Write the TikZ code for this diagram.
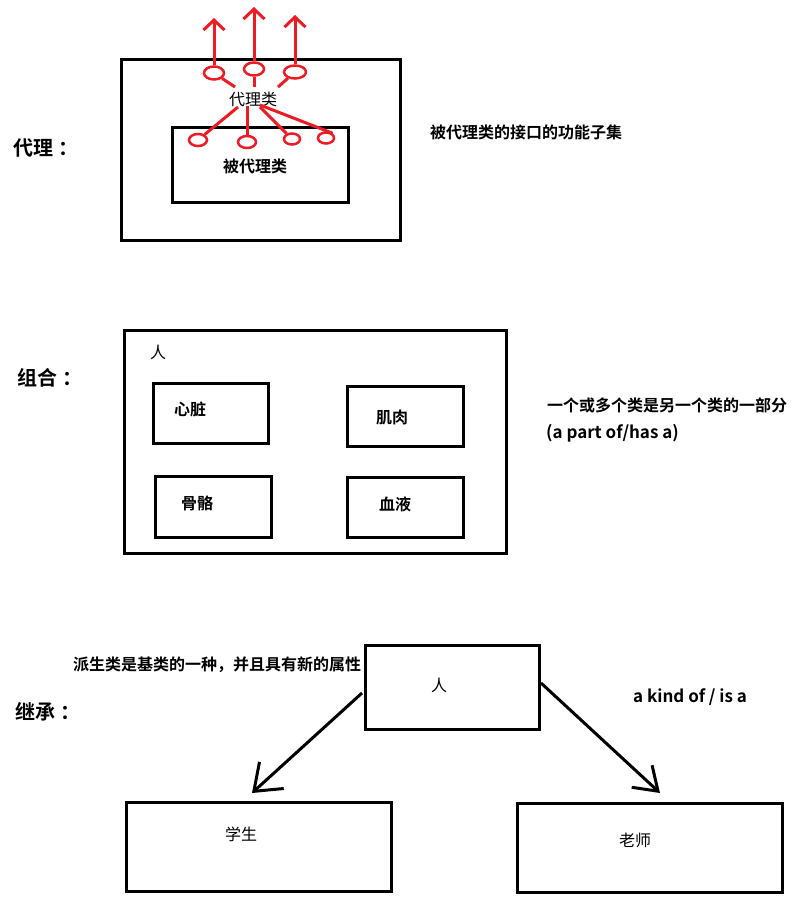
\documentclass[tikz,border=0pt]{standalone}
\usepackage{fontspec}
\setmainfont{Noto Sans CJK SC}[BoldFont={Noto Sans CJK SC Bold}]
\usetikzlibrary{shapes.geometric,arrows.meta}
\definecolor{pred}{RGB}{237,28,36}
\tikzset{
  box/.style={draw, line width=3pt, inner sep=0pt},
  ell/.style={draw=pred, line width=2.5pt, ellipse, inner sep=0pt},
  rline/.style={draw=pred, line width=3pt},
  rarrow/.style={rline, -{Straight Barb[length=10pt,width=21pt,line width=3pt]}},
  karrow/.style={line width=3pt, -{Straight Barb[length=24pt,width=36pt,line width=3pt]}},
  txt/.style={inner sep=0pt, font=\fontsize{16}{18}\selectfont},
  btxt/.style={inner sep=0pt, font=\fontsize{16}{18}\selectfont\bfseries},
  ltxt/.style={inner sep=0pt, font=\fontsize{17}{19}\selectfont\bfseries},
  lbl/.style={inner sep=0pt, anchor=west, font=\fontsize{20}{22}\selectfont\bfseries},
}
\begin{document}
\begin{tikzpicture}[x=1pt,y=-1pt]
\useasboundingbox[fill=white] (0,0) rectangle (804,917);

% ---------- proxy ----------
\node[box, minimum width=279, minimum height=180] (pouter) at (260.5,150) {};
\node[box, minimum width=176, minimum height=75] (pinner) at (260,165.5) {};
\node[txt] (proxy) at (253,99) {代理类};
\node[btxt] (proxied) at (255,166) {被代理类};
\node[lbl] (lproxy) at (13,148) {代理\kern5pt：};
\node[btxt, anchor=west] (dproxy) at (430,132) {被代理类的接口的功能子集};

\node[ell, minimum width=20, minimum height=13] (e1) at (214,73) {};
\node[ell, minimum width=20, minimum height=13] (e2) at (254,69) {};
\node[ell, minimum width=22, minimum height=13] (e3) at (295,72) {};
\node[ell, minimum width=18, minimum height=12] (e4) at (198,140) {};
\node[ell, minimum width=18, minimum height=12] (e5) at (247,142) {};
\node[ell, minimum width=16, minimum height=11] (e6) at (292,139) {};
\node[ell, minimum width=16, minimum height=11] (e7) at (326,138) {};

\coordinate (t1) at (214,18);
\coordinate (t2) at (254,7);
\coordinate (t3) at (295,15);
\draw[rarrow] (e1.north) -- (t1);
\draw[rarrow] (e2.north) -- (t2);
\draw[rarrow] (e3.north) -- (t3);

\coordinate (u1) at (235,87);
\coordinate (u2) at (254,87);
\coordinate (u3) at (278,87);
\draw[rline] (e1) -- (u1);
\draw[rline] (e2.south) -- (u2);
\draw[rline] (e3) -- (u3);

\coordinate (d4) at (238,107);
\coordinate (d5) at (247,106);
\coordinate (d6) at (260,107);
\coordinate (d7) at (260,105);
\draw[rline] (d4) -- (e4);
\draw[rline] (d5) -- (e5.north);
\draw[rline] (d6) -- (e6);
\draw[rline] (d7) -- (e7.north east);

% ---------- composition ----------
\node[box, minimum width=382, minimum height=223] (couter) at (315,441.5) {};
\node[txt] (cperson) at (158,352) {人};
\node[box, minimum width=115, minimum height=60] (heart) at (210.5,413) {};
\node[btxt] at (190,409) {心脏};
\node[box, minimum width=116, minimum height=60] (muscle) at (405,416) {};
\node[btxt] at (392,417) {肌肉};
\node[box, minimum width=116, minimum height=61] (bone) at (213,506.5) {};
\node[btxt] at (197,503) {骨骼};
\node[box, minimum width=116, minimum height=60] (blood) at (405,507) {};
\node[btxt] at (395,504) {血液};
\node[lbl] (lcomp) at (17,378) {组合\kern5pt：};
\node[btxt, anchor=west] (dcomp1) at (547,405) {一个或多个类是另一个类的一部分};
\node[ltxt, anchor=west] (dcomp2) at (546,433) {(a part of/has a)};

% ---------- inheritance ----------
\node[box, minimum width=174, minimum height=84] (iperson) at (452,687) {};
\node[txt] at (439,685) {人};
\node[box, minimum width=265, minimum height=89] (student) at (258.5,846.5) {};
\node[txt] at (241,834) {学生};
\node[box, minimum width=265, minimum height=89] (teacher) at (649.5,847.5) {};
\node[txt] at (635,840) {老师};
\node[lbl] (linh) at (15,712) {继承\kern5pt：};
\node[btxt, anchor=west] (dinh1) at (73,665) {派生类是基类的一种，并且具有新的属性};
\node[ltxt, anchor=west] (dinh2) at (633,697) {a kind of / is a};

\coordinate (sa) at (362,693);
\coordinate (sb) at (252,793);
\coordinate (ta) at (541,683);
\coordinate (tb) at (660,793);
\draw[karrow] (sa) -- (sb);
\draw[line width=3pt, -{Straight Barb[length=22pt,width=30pt,line width=3pt]}] (ta) -- (tb);
\end{tikzpicture}
\end{document}
